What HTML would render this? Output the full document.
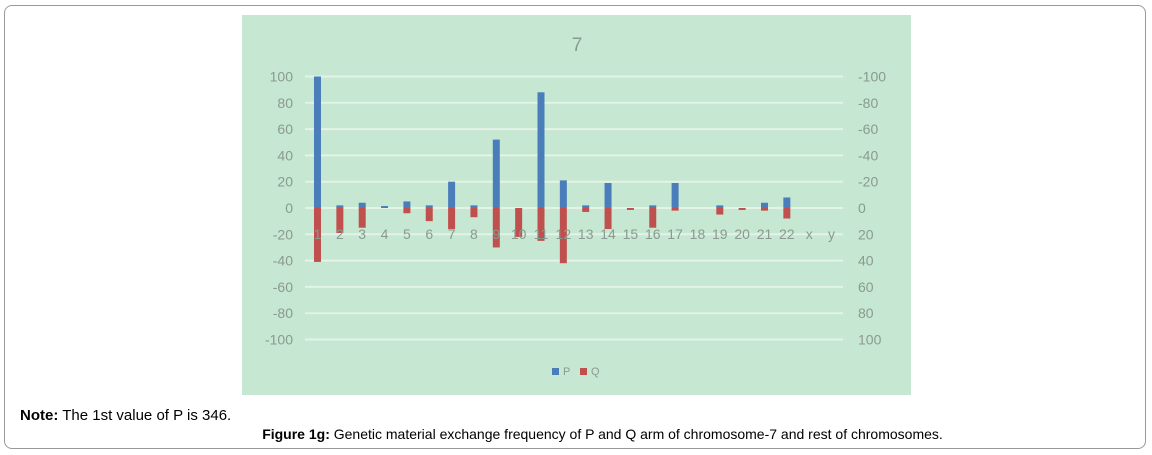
<!DOCTYPE html>
<html><head><meta charset="utf-8"><style>
body{margin:0;width:1152px;height:455px;background:#fff;font-family:"Liberation Sans",sans-serif;position:relative;overflow:hidden}
#frame{position:absolute;left:4px;top:5px;width:1142px;height:444px;border:1px solid #999;border-radius:8px;box-sizing:border-box}
#note{position:absolute;left:20px;top:407px;font-size:15px;color:#000}
#cap{position:absolute;left:0;width:1205px;top:426px;text-align:center;font-size:14px;color:#000}
svg{position:absolute;left:0;top:0}
</style></head><body>
<div id="frame"></div>
<svg width="1152" height="455">
<rect x="242" y="15" width="669" height="380" fill="#c6e7d1"/>
<text x="577" y="51" font-size="19" fill="#8a9a90" text-anchor="middle" font-family="Liberation Sans">7</text>
<g id="grid"></g><g id="bars"></g><g id="labels"></g>
<g>
<rect x="552" y="368" width="7" height="7" fill="#4a7ebb"/><text x="563" y="375" font-size="11" fill="#8a9a90">P</text>
<rect x="580" y="368" width="7" height="7" fill="#c0504d"/><text x="591" y="375" font-size="11" fill="#8a9a90">Q</text>
</g>
</svg>
<div id="note"><b>Note:</b> The 1st value of P is 346.</div>
<div id="cap"><b>Figure 1g:</b> Genetic material exchange frequency of P and Q arm of chromosome-7 and rest of chromosomes.</div>
<script>
const categories=["1","2","3","4","5","6","7","8","9","10","11","12","13","14","15","16","17","18","19","20","21","22","x","y"];
const pValues=[100,2,4,1.5,5,2,20,2,52,0,88,21,2,19,0,2,19,0,2,0,4,8,0,0];
const qValues=[-41,-19,-15,0,-4,-10,-16,-7,-30,-22,-25,-42,-3,-16,-1.5,-15,-2,0,-5,-1.5,-2,-8,0,0];
const leftTicks=[100,80,60,40,20,0,-20,-40,-60,-80,-100];
const rightTickLabels=["-100","-80","-60","-40","-20","0","20","40","60","80","100"];
const NS="http://www.w3.org/2000/svg";
const y=v=>208-v*1.315;
const x=i=>317.5+i*22.35;
const g=document.getElementById('grid'),b=document.getElementById('bars'),l=document.getElementById('labels');
function mk(t,a,p){const e=document.createElementNS(NS,t);for(const k in a)e.setAttribute(k,a[k]);p.appendChild(e);return e;}
leftTicks.forEach((v,i)=>{
 const ln=mk('line',{x1:305,x2:843,y1:y(v),y2:y(v),stroke:'#e4f3e8','stroke-width':2},g);
 
 
 const t=mk('text',{x:293,y:y(v)+5,'font-size':14,fill:'#8a9a90','text-anchor':'end'},l);t.textContent=v;
 
 
 const r=mk('text',{x:858,y:y(v)+5,'font-size':14,fill:'#8a9a90'},l);r.textContent=rightTickLabels[i];
 
 
});
categories.forEach((c,i)=>{
 const p=pValues[i],q=qValues[i];
 if(p){const r=mk('rect',{x:x(i)-3.5,y:y(p),width:7,height:y(0)-y(p),fill:'#4a7ebb'},b);
  
  }
 if(q){const r=mk('rect',{x:x(i)-3.5,y:y(0),width:7,height:y(q)-y(0),fill:'#c0504d'},b);
  
  }
 const t=mk('text',{x:x(i),y:239,'font-size':14,fill:'#8a9a90','text-anchor':'middle'},l);t.textContent=c;
 
 
});
</script>
</body></html>
